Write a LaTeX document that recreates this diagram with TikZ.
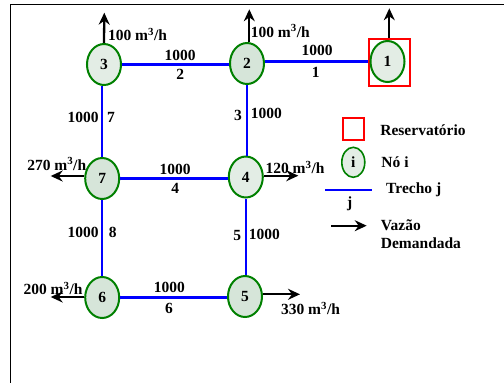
\documentclass[tikz,border=0pt]{standalone}
\usepackage{fontspec}
\setmainfont{Liberation Serif}
\usetikzlibrary{shapes.geometric,arrows.meta}
\definecolor{nodegreen}{RGB}{0,128,0}
\definecolor{filldark}{RGB}{214,229,217}
\definecolor{filllight}{RGB}{227,237,229}
\tikzset{
    junction/.style={draw=nodegreen, ellipse, line width=2pt, fill=filldark,
        minimum width=34pt, minimum height=41pt, inner sep=0pt, font=\bfseries\fontsize{15.5}{17}\selectfont},
    lbl/.style={inner sep=0pt, font=\bfseries\fontsize{15.5}{17}\selectfont},
    pipe/.style={draw=blue, line width=2.5pt},
    flow/.style={line width=2.3pt, -{Stealth[length=12pt,width=11pt,inset=4pt]}},
    reservoir/.style={draw=red, line width=2.2pt, inner sep=0pt}
}
\begin{document}
\begin{tikzpicture}[x=1pt, y=-1pt]
    \useasboundingbox (0,0) rectangle (504,383);
    \draw[line width=1.5pt] (504,4.5) -- (10.3,4.5) -- (10.3,383);

    \node[reservoir, minimum width=41pt, minimum height=47pt] (r1) at (389.5,62.5) {};
    \node[junction, fill=filllight] (1) at (387.5,61.5) {1};
    \node[junction] (2) at (247,63.5) {2};
    \node[junction, fill=filllight] (3) at (104,64.5) {3};
    \node[junction, fill=filllight] (4) at (245.8,177) {4};
    \node[junction] (5) at (245,296.5) {5};
    \node[junction] (6) at (102.2,297.5) {6};
    \node[junction] (7) at (102.2,178.5) {7};

    \draw[pipe] (2.east |- 1) -- (r1.west |- 1);
    \draw[pipe] (3.east) -- (2.west |- 3.east);
    \draw[pipe] (2.south) -- (2.south |- 4.north);
    \draw[pipe] (7.north |- 3.south) -- (7.north);
    \draw[pipe] (7.east) -- (4.west |- 7.east);
    \draw[pipe] (4.south) -- (4.south |- 5.north);
    \draw[pipe] (7.south) -- (6.north);
    \draw[pipe] (6.east) -- (5.west |- 6.east);

    \coordinate (c1) at (389.3,8.3);
    \coordinate (c2) at (249.3,9.3);
    \coordinate (c3) at (104.3,12.7);
    \coordinate (c4) at (298.3,175.7);
    \coordinate (c5) at (300,294.3);
    \coordinate (c6) at (50.7,297);
    \coordinate (c7) at (50.7,176);
    \draw[flow] (r1.north -| c1) -- (c1);
    \draw[flow] (2.north -| c2) -- (c2);
    \draw[flow] (3.north) -- (c3);
    \draw[flow] (4.east |- c4) -- (c4);
    \draw[flow] (5.east |- c5) -- (c5);
    \draw[flow] (6.west |- c6) -- (c6);
    \draw[flow] (7.west |- c7) -- (c7);

    \node[lbl] (q2) at (280.3,31) {100 m\textsuperscript{3}/h};
    \node[lbl] (q3) at (137.5,34.5) {100 m\textsuperscript{3}/h};
    \node[lbl] (q4) at (295,167.3) {120 m\textsuperscript{3}/h};
    \node[lbl] (q5) at (310.5,308.3) {330 m\textsuperscript{3}/h};
    \node[lbl] (q6) at (53,288.3) {200 m\textsuperscript{3}/h};
    \node[lbl] (q7) at (56.7,164) {270 m\textsuperscript{3}/h};

    \node[lbl] (l1) at (317,50) {1000};
    \node[lbl] (t1) at (315.7,72.7) {1};
    \node[lbl] (l2) at (180,55) {1000};
    \node[lbl] (t2) at (180.3,74.3) {2};
    \node[lbl] (l3) at (266.3,113) {1000};
    \node[lbl] (t3) at (238,115) {3};
    \node[lbl] (l4) at (175,169) {1000};
    \node[lbl] (t4) at (175.3,188.3) {4};
    \node[lbl] (l5) at (264.3,234) {1000};
    \node[lbl] (t5) at (237.3,235) {5};
    \node[lbl] (l6) at (169.3,287.7) {1000};
    \node[lbl] (t6) at (169,308.7) {6};
    \node[lbl] (l7) at (83,117) {1000};
    \node[lbl] (t7) at (111,117) {7};
    \node[lbl] (l8) at (83,232) {1000};
    \node[lbl] (t8) at (112.7,232.7) {8};

    % legend
    \node[reservoir, minimum width=21pt, minimum height=22pt] (keyr) at (353.3,128.7) {};
    \node[lbl] (keyrt) at (423,130) {Reservatório};
    \node[junction, fill=filllight, line width=1.6pt, minimum width=23pt, minimum height=30pt] (keyn) at (353.3,162.3) {i};
    \node[lbl] (keynt) at (395,161.7) {Nó i};
    \coordinate (keya) at (325.3,190);
    \coordinate (keyb) at (372,190);
    \draw[pipe] (keya) -- (keyb);
    \node[lbl] (keyp) at (413.7,190) {Trecho j};
    \node[lbl] (keyj) at (349.7,203.3) {j};
    \coordinate (keyc) at (331,225.7);
    \coordinate (keyd) at (366.7,225.7);
    \draw[flow] (keyc) -- (keyd);
    \node[lbl, anchor=west, align=left] (keyf) at (380.7,234) {Vazão\\[1pt]Demandada};
\end{tikzpicture}
\end{document}
